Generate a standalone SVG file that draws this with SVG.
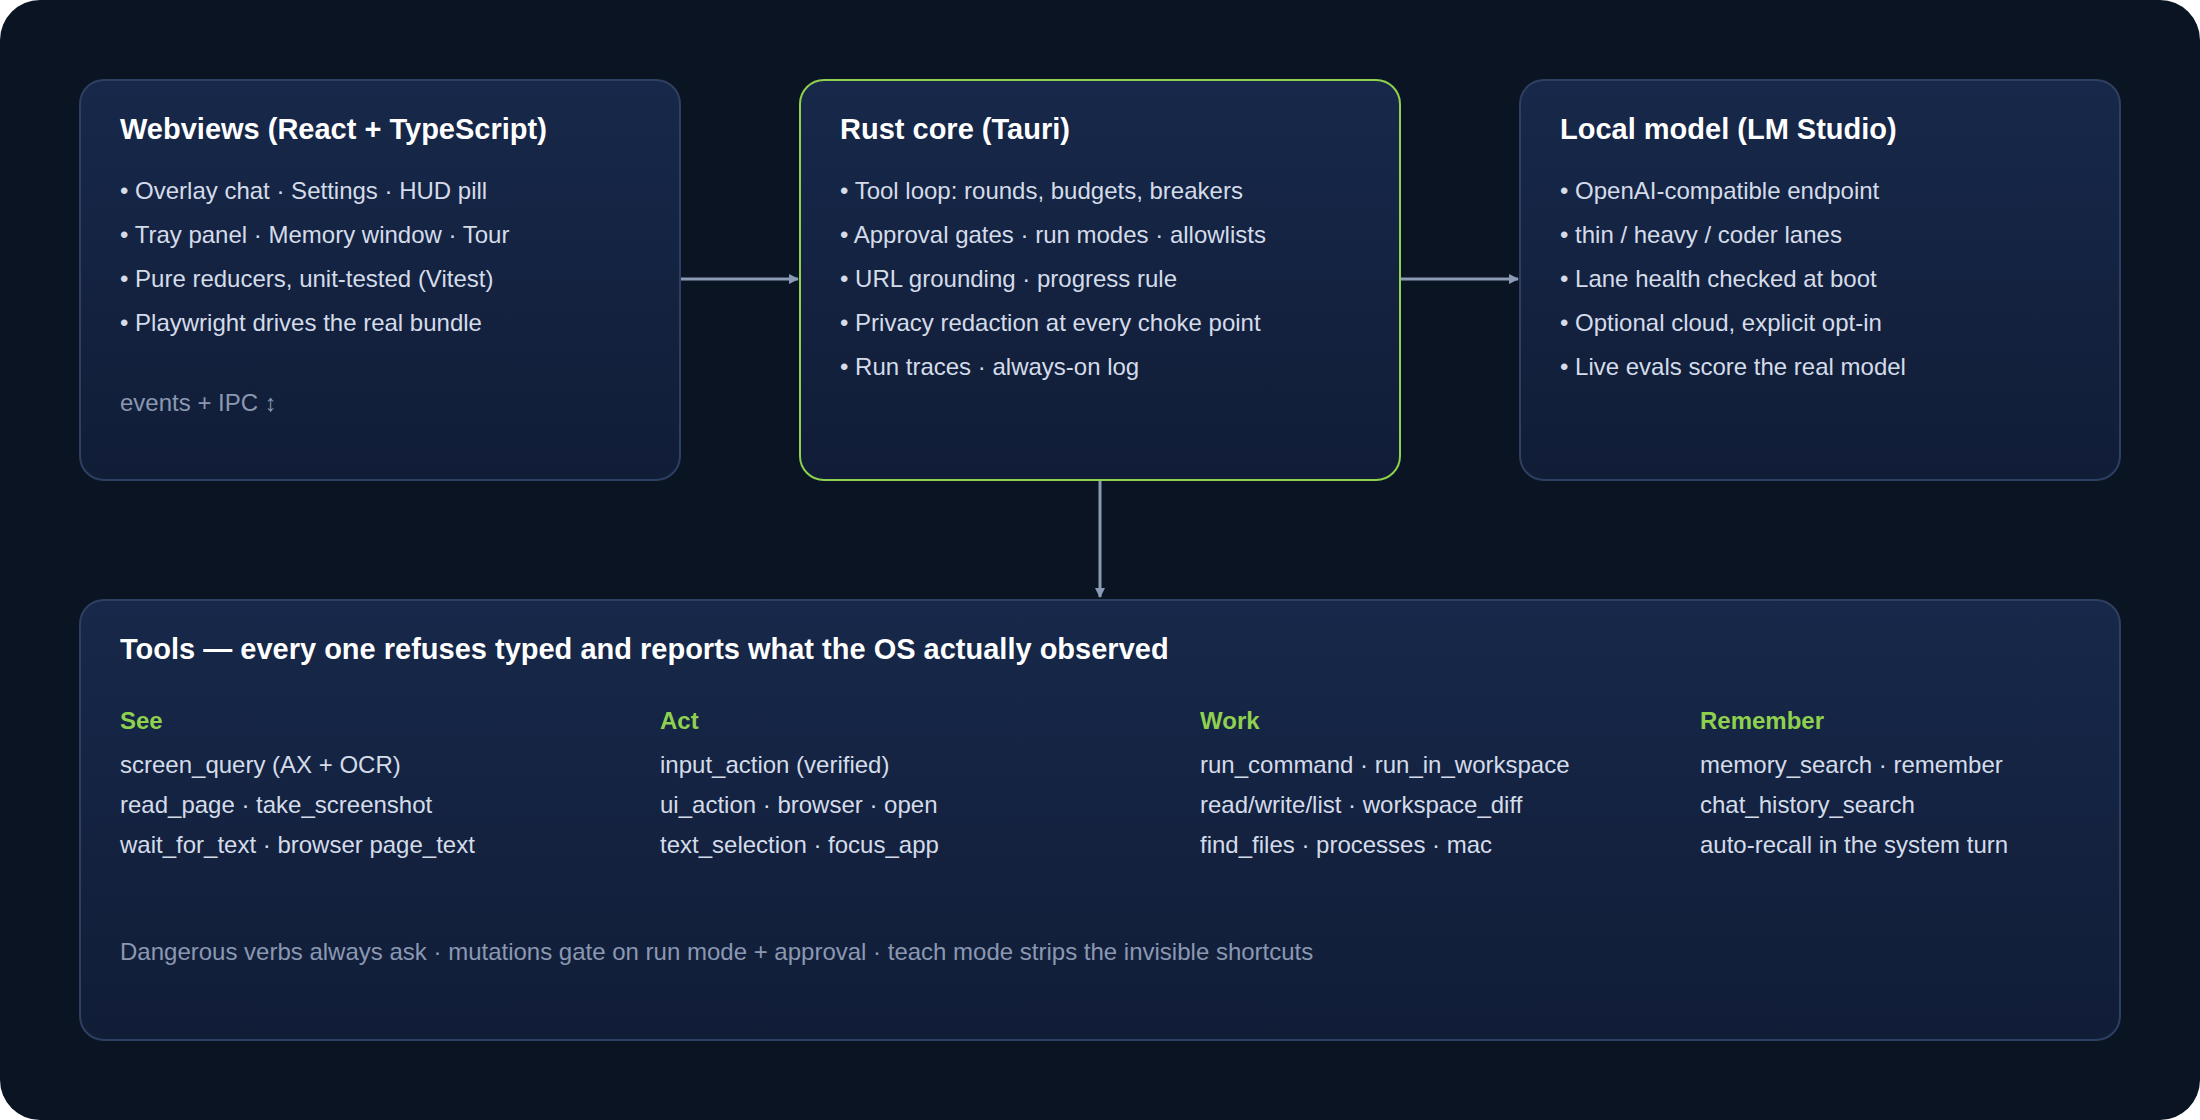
<svg xmlns="http://www.w3.org/2000/svg" width="2200" height="1120" viewBox="0 0 2200 1120">
<style>
.t{font-family:"Liberation Sans",Arial,sans-serif;font-size:29px;font-weight:bold;fill:#ffffff}
.b{font-family:"Liberation Sans",Arial,sans-serif;font-size:24px;fill:#d4dcea}
.m{font-family:"Liberation Sans",Arial,sans-serif;font-size:24px;fill:#8a98b2}
.h{font-family:"Liberation Sans",Arial,sans-serif;font-size:24px;font-weight:bold;fill:#8fd14f}
.box{fill:url(#g);stroke:#2e4062;stroke-width:2}
.c{stroke:#8b9ab5;stroke-width:3;fill:none}
</style>
<defs>
<linearGradient id="g" x1="0" y1="0" x2="0" y2="1"><stop offset="0" stop-color="#17284a"/><stop offset="1" stop-color="#111d37"/></linearGradient>
<marker id="a" markerWidth="10" markerHeight="10" refX="9" refY="5" orient="auto" markerUnits="userSpaceOnUse" viewBox="0 0 10 10"><path d="M0,0 L10,5 L0,10 z" fill="#8b9ab5"/></marker>
</defs>
<rect x="0" y="0" width="2200" height="1120" rx="40" fill="#0b1422"/>
<g id="connectors">
<line class="c" x1="680" y1="279" x2="798" y2="279" marker-end="url(#a)" style="marker-end:url(#a)"/>
<line class="c" x1="1400" y1="279" x2="1518" y2="279" marker-end="url(#a)"/>
<line class="c" x1="1100" y1="480" x2="1100" y2="597" marker-end="url(#a)"/>
</g>
<g id="webviews">
<rect class="box" x="80" y="80" width="600" height="400" rx="24"/>
<text class="t" x="120" y="139">Webviews (React + TypeScript)</text>
<text class="b" x="120" y="199">• Overlay chat · Settings · HUD pill</text>
<text class="b" x="120" y="243">• Tray panel · Memory window · Tour</text>
<text class="b" x="120" y="287">• Pure reducers, unit-tested (Vitest)</text>
<text class="b" x="120" y="331">• Playwright drives the real bundle</text>
<text class="m" x="120" y="411">events + IPC ↕</text>
</g>
<g id="rust">
<rect class="box" x="800" y="80" width="600" height="400" rx="24" style="stroke:#8fd14f"/>
<text class="t" x="840" y="139">Rust core (Tauri)</text>
<text class="b" x="840" y="199">• Tool loop: rounds, budgets, breakers</text>
<text class="b" x="840" y="243">• Approval gates · run modes · allowlists</text>
<text class="b" x="840" y="287">• URL grounding · progress rule</text>
<text class="b" x="840" y="331">• Privacy redaction at every choke point</text>
<text class="b" x="840" y="375">• Run traces · always-on log</text>
</g>
<g id="local">
<rect class="box" x="1520" y="80" width="600" height="400" rx="24"/>
<text class="t" x="1560" y="139">Local model (LM Studio)</text>
<text class="b" x="1560" y="199">• OpenAI-compatible endpoint</text>
<text class="b" x="1560" y="243">• thin / heavy / coder lanes</text>
<text class="b" x="1560" y="287">• Lane health checked at boot</text>
<text class="b" x="1560" y="331">• Optional cloud, explicit opt-in</text>
<text class="b" x="1560" y="375">• Live evals score the real model</text>
</g>
<g id="tools">
<rect class="box" x="80" y="600" width="2040" height="440" rx="24"/>
<text class="t" x="120" y="659">Tools — every one refuses typed and reports what the OS actually observed</text>
<text class="h" x="120" y="729">See</text>
<text class="b" x="120" y="773">screen_query (AX + OCR)</text>
<text class="b" x="120" y="813">read_page · take_screenshot</text>
<text class="b" x="120" y="853">wait_for_text · browser page_text</text>
<text class="h" x="660" y="729">Act</text>
<text class="b" x="660" y="773">input_action (verified)</text>
<text class="b" x="660" y="813">ui_action · browser · open</text>
<text class="b" x="660" y="853">text_selection · focus_app</text>
<text class="h" x="1200" y="729">Work</text>
<text class="b" x="1200" y="773">run_command · run_in_workspace</text>
<text class="b" x="1200" y="813">read/write/list · workspace_diff</text>
<text class="b" x="1200" y="853">find_files · processes · mac</text>
<text class="h" x="1700" y="729">Remember</text>
<text class="b" x="1700" y="773">memory_search · remember</text>
<text class="b" x="1700" y="813">chat_history_search</text>
<text class="b" x="1700" y="853">auto-recall in the system turn</text>
<text class="m" x="120" y="960">Dangerous verbs always ask · mutations gate on run mode + approval · teach mode strips the invisible shortcuts</text>
</g>
</svg>
